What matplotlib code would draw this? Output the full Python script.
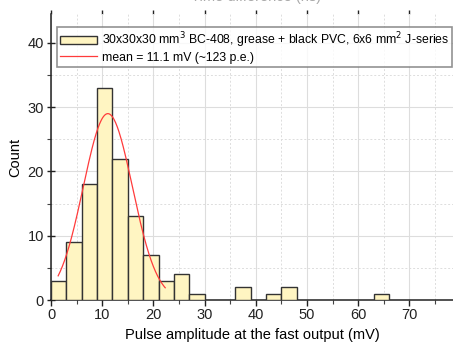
import numpy as np
import matplotlib
matplotlib.use('Agg')
import matplotlib.pyplot as plt
from matplotlib.ticker import MultipleLocator

# histogram bins (mV) and counts
bin_left = [0, 3, 6, 9, 12, 15, 18, 21, 24, 27, 36, 42, 45, 63]
counts = [3, 9, 18, 33, 22, 13, 7, 3, 4, 1, 2, 1, 2, 1]
bin_width = 3

# gaussian fit
fit_mean = 11.1
fit_sigma = 4.8
fit_amp = 29.0
fit_range = (1.4, 22.3)

hist_label = '30x30x30 mm$^3$ BC-408, grease + black PVC, 6x6 mm$^2$ J-series'
fit_label = 'mean = 11.1 mV (~123 p.e.)'

plt.rcParams['font.family'] = ['Liberation Sans', 'DejaVu Sans']

fig = plt.figure(figsize=(4.53, 3.45), dpi=100)
ax = fig.add_axes([51 / 453, 1 - 300 / 345, 1 - 51 / 453, (300 - 14) / 345])

bars = ax.bar(bin_left, counts, width=bin_width, align='edge', color='#fff5c2',
              edgecolor='#333333', linewidth=1.0, label=hist_label, zorder=3)

xs = np.linspace(fit_range[0], fit_range[1], 200)
ys = fit_amp * np.exp(-(xs - fit_mean) ** 2 / (2 * fit_sigma ** 2))
line, = ax.plot(xs, ys, color='#ff3b3b', linewidth=0.9, label=fit_label, zorder=4)

ax.set_xlim(0, 78.5)
ax.set_ylim(0, 44.5)
ax.xaxis.set_major_locator(MultipleLocator(10))
ax.xaxis.set_minor_locator(MultipleLocator(5))
ax.yaxis.set_major_locator(MultipleLocator(10))
ax.yaxis.set_minor_locator(MultipleLocator(5))

ax.grid(which='major', color='#dddddd', linewidth=0.8, zorder=0)
ax.grid(which='minor', color='#dddddd', linewidth=0.7, linestyle=(0, (2, 2)), zorder=0)
ax.set_axisbelow(True)

for s in ['right', 'top']:
    ax.spines[s].set_visible(False)
for s in ['left', 'bottom']:
    ax.spines[s].set_color('#222222')
    ax.spines[s].set_linewidth(1.1)

ax.tick_params(which='major', direction='inout', length=6, width=1, labelsize=10.5,
               colors='#222222', pad=2)
ax.tick_params(which='minor', direction='out', length=3, width=0.8, colors='#444444')
ax.tick_params(axis='x', which='major', direction='out', length=4)

# short ticks along the top edge
top = ax.secondary_xaxis('top')
top.xaxis.set_major_locator(MultipleLocator(10))
top.xaxis.set_minor_locator(MultipleLocator(5))
top.spines['top'].set_visible(False)
top.tick_params(which='major', direction='out', length=3, width=1, colors='#222222',
                labeltop=False)
top.tick_params(which='minor', length=0)

ax.set_xlabel('Pulse amplitude at the fast output (mV)', fontsize=10.5, labelpad=4)
ax.set_ylabel('Count', fontsize=10.5, labelpad=4)

fig.text(0.565, 1.008, 'Time difference (ns)', fontsize=10.5, color='#aaaaaa',
         ha='center', va='center')

leg = ax.legend([bars, line], [hist_label, fit_label], loc='upper left',
                bbox_to_anchor=(0.0, 0.975), fontsize=8.8,
                frameon=True, fancybox=False, edgecolor='#777777',
                borderpad=0.25, labelspacing=0.15, handlelength=3.0,
                handletextpad=0.4, borderaxespad=0.5)
leg.get_frame().set_linewidth(1.2)

fig.savefig('out.png', dpi=100)
